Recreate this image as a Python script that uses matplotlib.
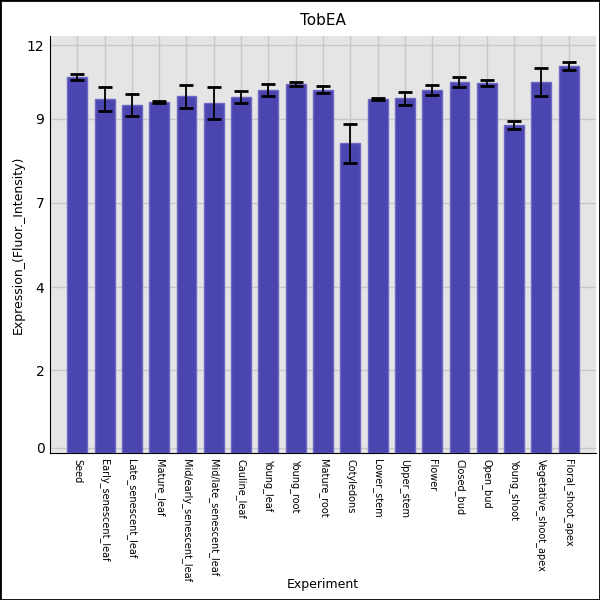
import numpy as np
import matplotlib
matplotlib.use("Agg")
import matplotlib.pyplot as plt

# experiment names, mean expression and error
experiments = ["Seed", "Early_senescent_leaf", "Late_senescent_leaf", "Mature_leaf",
               "Mid/early_senescent_leaf", "Mid/late_senescent_leaf", "Cauline_leaf",
               "Young_leaf", "Young_root", "Mature_root", "Cotyledons", "Lower_stem",
               "Upper_stem", "Flower", "Closed_bud", "Open_bud", "Young_shoot",
               "Vegetative_shoot_apex", "Floral_shoot_apex"]
means = [11.05, 10.40, 10.22, 10.30, 10.48, 10.27, 10.44, 10.66, 10.85, 10.67,
         9.07, 10.39, 10.41, 10.65, 10.91, 10.87, 9.62, 10.90, 11.38]
errors = [0.08, 0.36, 0.33, 0.03, 0.34, 0.48, 0.18, 0.17, 0.06, 0.10,
          0.57, 0.03, 0.19, 0.15, 0.15, 0.10, 0.12, 0.42, 0.13]

# y ticks sit at odd positions, labelled with whole numbers
ytick_pos = [0, 2.32, 4.79, 7.30, 9.80, 12.0]
ytick_labels = ["0", "2", "4", "7", "9", "12"]

ymin, ymax = -0.15, 12.27

fig = plt.figure(figsize=(6, 6), dpi=100)
ax = fig.add_axes([0.0833, 0.245, 0.91, 0.695])
ax.set_facecolor("#e5e5e5")

x = np.arange(len(experiments))
heights = np.array(means) - ymin
ax.bar(x, heights, bottom=ymin, width=0.73, color="#4b45b0",
       edgecolor="#6d68c4", linewidth=1, zorder=3)
ax.errorbar(x, means, yerr=errors, fmt="none", ecolor="black",
            elinewidth=1.3, capsize=5, capthick=2, zorder=4)

ax.set_xlim(-1, 19.0)
ax.set_ylim(ymin, ymax)
ax.set_yticks(ytick_pos)
ax.set_yticklabels(ytick_labels, fontsize=10)
ax.set_xticks(x)
ax.set_xticklabels(experiments, rotation=270, fontsize=7, va="top", ha="center")
ax.tick_params(axis="both", length=0, pad=4)
ax.grid(True, color="#c8c8c8", linewidth=1, zorder=0)
ax.set_axisbelow(True)

for side in ["top", "right"]:
    ax.spines[side].set_visible(False)
ax.spines["left"].set_color("black")
ax.spines["bottom"].set_color("black")

ax.set_title("TobEA", fontsize=11, pad=8)
ax.set_ylabel("Expression_(Fluor._Intensity)", fontsize=9)
ax.yaxis.set_label_coords(-0.047, 0.5)
ax.set_xlabel("Experiment", fontsize=9)
ax.xaxis.set_label_coords(0.5, -0.30)

# black frame round the whole picture
fig.patches.append(plt.Rectangle((0, 0), 1, 1, transform=fig.transFigure,
                                 fill=False, edgecolor="black", linewidth=2))

fig.savefig("out.png", dpi=100)
